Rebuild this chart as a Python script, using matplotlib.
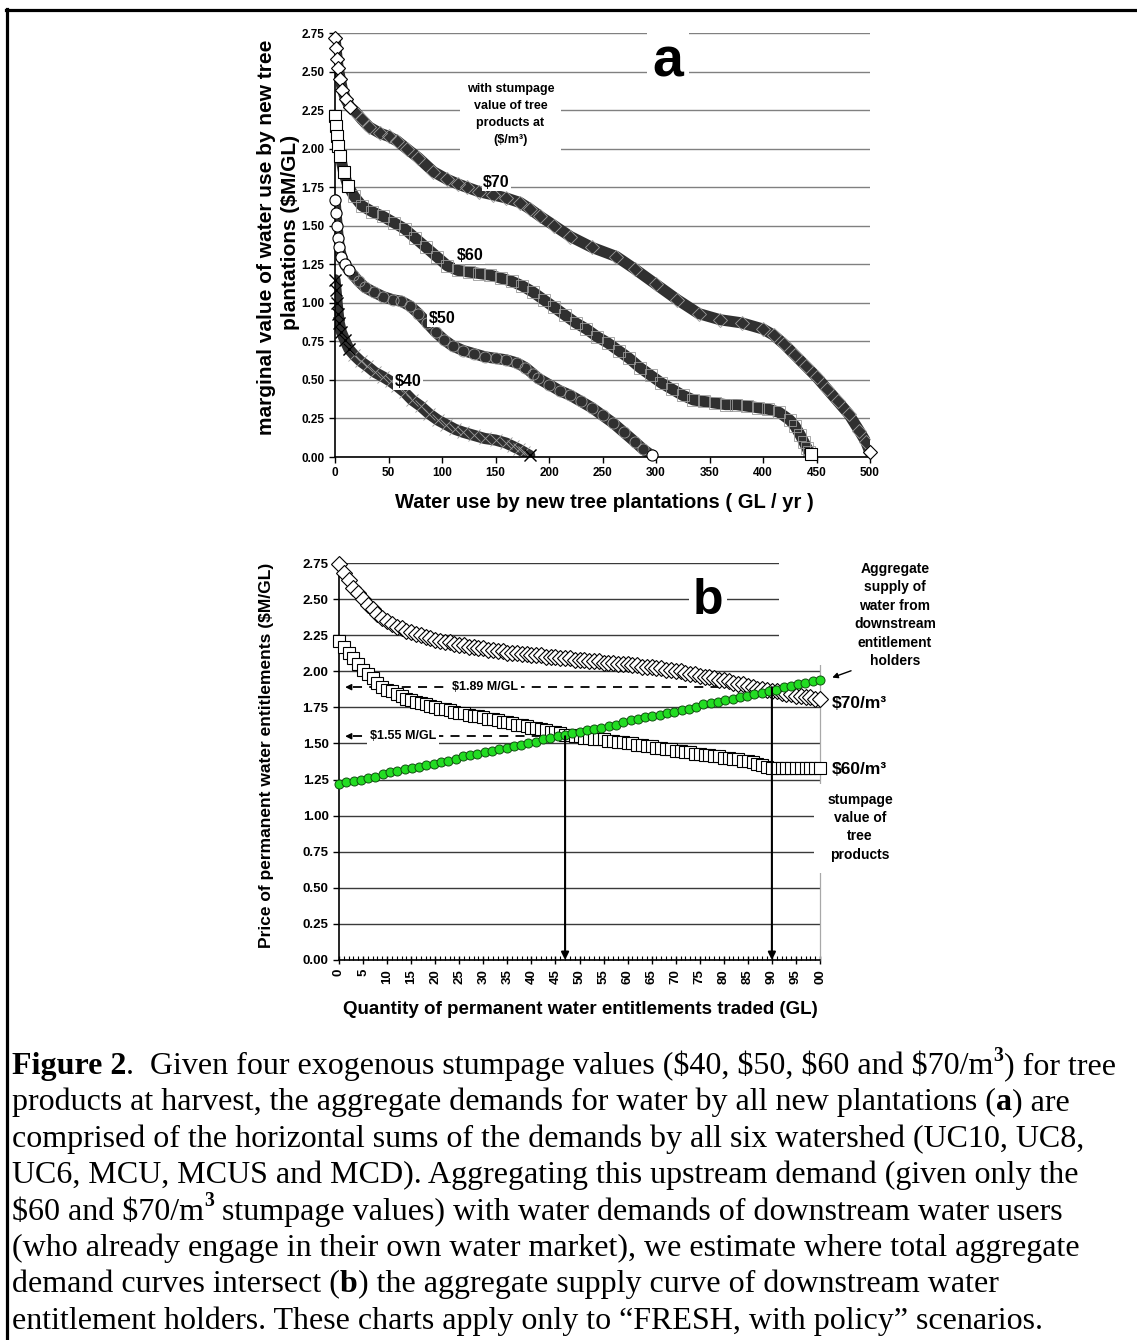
import numpy as np
import matplotlib
matplotlib.use('Agg')
import matplotlib.pyplot as plt
from matplotlib.lines import Line2D
from matplotlib.patches import Rectangle

plt.rcParams['font.family'] = ['Liberation Sans', 'DejaVu Sans']
plt.rcParams['font.weight'] = 'bold'

# ---- panel a: aggregate demand by new plantations, by stumpage value ----
a70_x = [0, 1, 2, 3, 5, 7, 10, 14, 19, 25, 32, 42, 50, 58, 67, 78, 92, 105, 115, 123, 135, 148, 160,
         173, 182, 192, 205, 220, 240, 263, 280, 300, 320, 340, 360, 380, 400, 410, 420, 430, 440, 450,
         460, 470, 480, 490, 496, 500]
a70_y = [2.72, 2.65, 2.58, 2.52, 2.45, 2.38, 2.32, 2.27, 2.24, 2.19, 2.14, 2.10, 2.08, 2.05, 2.00, 1.94,
         1.85, 1.80, 1.77, 1.75, 1.72, 1.70, 1.68, 1.65, 1.61, 1.56, 1.50, 1.43, 1.36, 1.30, 1.22, 1.12,
         1.02, 0.93, 0.89, 0.87, 0.83, 0.79, 0.73, 0.66, 0.59, 0.52, 0.44, 0.36, 0.28, 0.17, 0.10, 0.03]

a60_x = [0, 1, 2, 3, 5, 8, 12, 18, 25, 35, 45, 55, 65, 75, 85, 95, 105, 115, 125, 135, 145, 155, 165,
         175, 185, 195, 205, 215, 225, 235, 245, 255, 265, 275, 285, 295, 305, 315, 325, 335, 345, 355,
         365, 375, 385, 395, 405, 415, 425, 430, 435, 438, 441, 443, 445]
a60_y = [2.21, 2.15, 2.08, 2.02, 1.95, 1.85, 1.76, 1.69, 1.63, 1.59, 1.56, 1.52, 1.48, 1.42, 1.36, 1.30,
         1.24, 1.21, 1.20, 1.19, 1.18, 1.16, 1.14, 1.11, 1.07, 1.02, 0.97, 0.92, 0.87, 0.83, 0.78, 0.74,
         0.69, 0.64, 0.58, 0.53, 0.48, 0.44, 0.40, 0.37, 0.36, 0.35, 0.34, 0.34, 0.33, 0.32, 0.31, 0.29,
         0.24, 0.20, 0.14, 0.10, 0.06, 0.03, 0.02]

a50_x = [0, 1, 2, 3, 4, 6, 9, 13, 17, 22, 28, 36, 45, 54, 62, 70, 78, 86, 94, 102, 110, 120, 130, 140,
         150, 160, 170, 178, 185, 190, 200, 210, 220, 230, 240, 250, 260, 270, 280, 288, 296]
a50_y = [1.67, 1.58, 1.50, 1.42, 1.36, 1.30, 1.25, 1.21, 1.18, 1.14, 1.10, 1.07, 1.04, 1.02, 1.01, 0.98,
         0.93, 0.87, 0.81, 0.76, 0.72, 0.69, 0.67, 0.65, 0.64, 0.63, 0.61, 0.58, 0.54, 0.51, 0.47, 0.43,
         0.40, 0.36, 0.32, 0.27, 0.22, 0.16, 0.10, 0.05, 0.01]

a40_x = [0, 1, 2, 3, 4, 6, 9, 13, 18, 24, 30, 37, 45, 52, 58, 65, 72, 80, 88, 96, 104, 112, 120, 130,
         140, 150, 160, 166, 172, 177, 182]
a40_y = [1.15, 1.08, 1.00, 0.93, 0.87, 0.81, 0.76, 0.70, 0.66, 0.62, 0.59, 0.55, 0.52, 0.49, 0.46, 0.42,
         0.37, 0.33, 0.28, 0.24, 0.21, 0.18, 0.16, 0.14, 0.12, 0.11, 0.09, 0.07, 0.05, 0.03, 0.01]

# ---- panel b: total demand ($60, $70) vs downstream supply, 0..100 GL ----
b_qty = np.arange(0, 101)
b70 = [2.74, 2.68, 2.63, 2.58, 2.54, 2.50, 2.46, 2.43, 2.40, 2.37, 2.35, 2.33, 2.31, 2.30, 2.28, 2.27,
       2.26, 2.25, 2.24, 2.23, 2.22, 2.21, 2.20, 2.20, 2.19, 2.18, 2.18, 2.17, 2.17, 2.16, 2.16, 2.15,
       2.15, 2.14, 2.14, 2.13, 2.13, 2.13, 2.12, 2.12, 2.11, 2.11, 2.11, 2.10, 2.10, 2.10, 2.09, 2.09,
       2.09, 2.08, 2.08, 2.08, 2.07, 2.07, 2.07, 2.06, 2.06, 2.06, 2.05, 2.05, 2.05, 2.04, 2.04, 2.03,
       2.03, 2.03, 2.02, 2.02, 2.01, 2.01, 2.00, 2.00, 1.99, 1.98, 1.98, 1.97, 1.96, 1.96, 1.95, 1.94,
       1.94, 1.93, 1.92, 1.91, 1.91, 1.90, 1.89, 1.88, 1.88, 1.87, 1.86, 1.86, 1.85, 1.84, 1.84, 1.83,
       1.83, 1.82, 1.82, 1.81, 1.81]
b60 = [2.21, 2.17, 2.13, 2.09, 2.05, 2.01, 1.98, 1.95, 1.92, 1.89, 1.87, 1.86, 1.84, 1.83, 1.81, 1.80,
       1.79, 1.78, 1.77, 1.76, 1.75, 1.74, 1.74, 1.73, 1.72, 1.71, 1.71, 1.70, 1.69, 1.69, 1.68, 1.67,
       1.67, 1.66, 1.65, 1.65, 1.64, 1.63, 1.63, 1.62, 1.61, 1.61, 1.60, 1.59, 1.58, 1.58, 1.57, 1.56,
       1.56, 1.55, 1.55, 1.54, 1.54, 1.53, 1.53, 1.53, 1.52, 1.52, 1.51, 1.51, 1.50, 1.50, 1.49, 1.49,
       1.48, 1.48, 1.47, 1.47, 1.46, 1.46, 1.45, 1.45, 1.44, 1.44, 1.43, 1.43, 1.42, 1.42, 1.41, 1.41,
       1.40, 1.40, 1.39, 1.39, 1.38, 1.38, 1.37, 1.36, 1.35, 1.34, 1.33, 1.33, 1.33, 1.33, 1.33, 1.33,
       1.33, 1.33, 1.33, 1.33, 1.33]
supply_qty = np.linspace(0, 100, 67)
supply = [1.22, 1.23, 1.24, 1.25, 1.26, 1.27, 1.29, 1.30, 1.31, 1.32, 1.33, 1.34, 1.35, 1.36, 1.37, 1.38,
          1.39, 1.41, 1.42, 1.43, 1.44, 1.45, 1.46, 1.47, 1.48, 1.49, 1.50, 1.51, 1.53, 1.54, 1.55, 1.56,
          1.57, 1.58, 1.59, 1.60, 1.61, 1.62, 1.63, 1.65, 1.66, 1.67, 1.68, 1.69, 1.70, 1.71, 1.72, 1.73,
          1.74, 1.75, 1.77, 1.78, 1.79, 1.80, 1.81, 1.82, 1.83, 1.84, 1.85, 1.86, 1.87, 1.89, 1.90, 1.91,
          1.92, 1.93, 1.94]
eq_qty = [47, 90]
eq_price = [1.55, 1.89]

W, H = 1137, 1340
fig = plt.figure(figsize=(W / 100, H / 100), dpi=100)


def fx(px):
    return px / W


def fy(py):
    return 1 - py / H


# frame around the figure
fig.add_artist(Line2D([fx(6), 1], [fy(10), fy(10)], color='black', lw=2.3))
fig.add_artist(Line2D([fx(7), fx(7)], [fy(9), 0], color='black', lw=2.3))

white = dict(facecolor='white', edgecolor='none', pad=1)

# ================= panel a =================
ax = fig.add_axes([fx(335), fy(457), fx(870) - fx(335), fy(33) - fy(457)])
ax.set_xlim(0, 500)
ax.set_ylim(0, 2.75)
ax.set_axisbelow(True)
ax.grid(axis='y', color='#808080', lw=1.0)
for s in ['top', 'right']:
    ax.spines[s].set_visible(False)
ax.spines['left'].set_linewidth(1.2)
ax.spines['bottom'].set_linewidth(1.2)


def band(x, y, marker, ms, n_open):
    # dense run of markers -> dark band; the steep start and the last point stay open
    ax.plot(x, y, color='#303030', lw=8, solid_capstyle='round', zorder=2)
    ax.plot(x, y, ls='none', marker=marker, ms=ms, mfc='none', mec='#9a9a9a', mew=0.6, zorder=2.5)
    keep = list(range(n_open)) + [len(x) - 1]
    if marker == 'x':
        ax.plot(x, y, ls='none', marker='x', ms=ms, mec='black', mew=1.0, markevery=keep,
                zorder=3, clip_on=False)
    else:
        ax.plot(x, y, ls='none', marker=marker, ms=ms, mfc='white', mec='black', mew=0.8,
                markevery=keep, zorder=3, clip_on=False)


band(a70_x, a70_y, 'D', 7, 8)
band(a60_x, a60_y, 's', 8, 7)
band(a50_x, a50_y, 'o', 8, 8)
band(a40_x, a40_y, 'x', 8, 8)

ax.set_yticks(np.arange(0, 2.76, 0.25))
ax.set_yticklabels(['%.2f' % v for v in np.arange(0, 2.76, 0.25)])
ax.set_xticks(np.arange(0, 501, 50))
ax.tick_params(axis='both', labelsize=8.5, length=4, width=1)
for t in ax.get_xticklabels() + ax.get_yticklabels():
    t.set_fontweight('bold')

ax.text(151, 1.78, '$70', fontsize=11.5, ha='center', va='center', bbox=white, zorder=5)
ax.text(126, 1.31, '$60', fontsize=11.5, ha='center', va='center', bbox=white, zorder=5)
ax.text(100, 0.90, '$50', fontsize=11.5, ha='center', va='center', bbox=white, zorder=5)
ax.text(68, 0.49, '$40', fontsize=11.5, ha='center', va='center', bbox=white, zorder=5)
ax.text(164, 2.22, 'with stumpage\nvalue of tree\nproducts at\n($/m³)', fontsize=9,
        ha='center', va='center', linespacing=1.55, zorder=5,
        bbox=dict(facecolor='white', edgecolor='none', pad=5))
ax.text(311, 2.56, 'a', fontsize=40, ha='center', va='center', zorder=5,
        bbox=dict(facecolor='white', edgecolor='none', pad=4))

fig.text(fx(266), fy(237), 'marginal value of water use by new tree', rotation=90,
         ha='center', va='center', fontsize=15)
fig.text(fx(291), fy(232), 'plantations ($M/GL)', rotation=90,
         ha='center', va='center', fontsize=15)
fig.text(fx(604), fy(502), 'Water use by new tree plantations ( GL / yr )',
         ha='center', va='center', fontsize=14.5)

# ================= panel b =================
bx = fig.add_axes([fx(339), fy(960), fx(820) - fx(339), fy(563) - fy(960)])
bx.set_xlim(0, 100)
bx.set_ylim(0, 2.75)
bx.set_axisbelow(True)
bx.grid(axis='y', color='#3a3a3a', lw=1.0)
bx.spines['top'].set_visible(False)
bx.spines['right'].set_color('#a8a8a8')
bx.spines['right'].set_linewidth(0.9)
bx.spines['left'].set_linewidth(1.2)
bx.spines['bottom'].set_linewidth(1.2)

bx.plot(b_qty, b70, ls='none', marker='D', ms=8, mfc='white', mec='black', mew=0.8,
        zorder=3, clip_on=False)
bx.plot(b_qty, b60, ls='none', marker='s', ms=8.5, mfc='white', mec='black', mew=0.8,
        zorder=3, clip_on=False)
bx.plot(supply_qty, supply, ls='none', marker='o', ms=6.5, mfc='#22dd22', mec='#105010',
        mew=0.7, zorder=4, clip_on=False)

# equilibrium markers: dashed price lines and vertical quantity arrows
for q, p, lbl, lx in zip(eq_qty, eq_price, ['$1.55 M/GL', '$1.89 M/GL'], [13.3, 30.4]):
    bx.plot([3, q], [p, p], color='black', lw=1.3, ls=(0, (5, 4)), zorder=2)
    bx.annotate('', xy=(0.7, p), xytext=(3.2, p),
                arrowprops=dict(arrowstyle='-|>', color='black', lw=1.0, mutation_scale=9))
    bx.annotate('', xy=(q, 0.0), xytext=(q, p),
                arrowprops=dict(arrowstyle='-|>', color='black', lw=1.5, mutation_scale=11,
                                shrinkA=0, shrinkB=0), zorder=5)
    bx.text(lx, p, lbl, fontsize=9, ha='center', va='center', zorder=6,
            bbox=dict(facecolor='white', edgecolor='none', pad=2))

bx.set_yticks(np.arange(0, 2.76, 0.25))
bx.set_yticklabels(['%.2f' % v for v in np.arange(0, 2.76, 0.25)])
bx.set_xticks(np.arange(0, 101, 5))
bx.set_xticklabels([str(v) for v in range(0, 100, 5)] + ['00'], rotation=90)
bx.set_xticks(np.arange(0, 101, 1), minor=True)
bx.tick_params(axis='y', labelsize=9.5, length=4, width=1)
bx.tick_params(axis='x', which='major', labelsize=9.5, length=6, width=1, direction='inout')
bx.tick_params(axis='x', which='minor', length=3, width=0.8, direction='in')
for t in bx.get_xticklabels() + bx.get_yticklabels():
    t.set_fontweight('bold')

# white boxes hiding grid behind the side notes
bx.add_patch(Rectangle((91.5, 2.04), 30, 0.78, transform=bx.transData, facecolor='white',
                       edgecolor='none', zorder=2.6, clip_on=False))
bx.add_patch(Rectangle((98.7, 0.60), 25, 0.62, transform=bx.transData, facecolor='white',
                       edgecolor='none', zorder=2.6, clip_on=False))

bx.text(76.7, 2.49, 'b', fontsize=36, ha='center', va='center', zorder=6,
        bbox=dict(facecolor='white', edgecolor='none', pad=3))
bx.text(115.6, 2.39, 'Aggregate\nsupply of\nwater from\ndownstream\nentitlement\nholders',
        fontsize=10, ha='center', va='center', linespacing=1.4, zorder=6, clip_on=False)
bx.annotate('', xy=(102, 1.95), xytext=(107, 2.01), annotation_clip=False,
            arrowprops=dict(arrowstyle='-|>', color='black', lw=1.0, mutation_scale=8))
bx.text(102.5, 1.78, '$70/m³', fontsize=12.5, ha='left', va='center', zorder=6, clip_on=False)
bx.text(102.5, 1.32, '$60/m³', fontsize=12.5, ha='left', va='center', zorder=6, clip_on=False)
bx.text(108.3, 0.92, 'stumpage\nvalue of\ntree\nproducts', fontsize=10, ha='center',
        va='center', linespacing=1.4, zorder=6, clip_on=False)

fig.text(fx(266), fy(755), 'Price of permanent water entitlements ($M/GL)', rotation=90,
         ha='center', va='center', fontsize=12.5)
fig.text(fx(580), fy(1010), 'Quantity of permanent water entitlements traded (GL)',
         ha='center', va='center', fontsize=13.5)

# ================= caption =================
renderer = fig.canvas.get_renderer()
CAP = 23


def seg_width(s, size, weight):
    a = fig.text(0, 0, 'X' + s + 'X', fontsize=size, fontweight=weight, family='Liberation Serif',
                 parse_math=False)
    b = fig.text(0, 0, 'XX', fontsize=size, fontweight=weight, family='Liberation Serif',
                 parse_math=False)
    w = a.get_window_extent(renderer).width - b.get_window_extent(renderer).width
    a.remove()
    b.remove()
    return w


def rich_line(x_px, y_px, parts):
    x = x_px
    for s, bold, sup in parts:
        size = CAP * 0.62 if sup else CAP
        weight = 'bold' if bold else 'normal'
        yy = y_px - (CAP * 100 / 72 * 0.42 if sup else 0)
        fig.text(fx(x), fy(yy), s, fontsize=size, fontweight=weight, family='Liberation Serif',
                 ha='left', va='baseline', parse_math=False)
        x += seg_width(s, size, weight)


caption = [
    [('Figure 2', True, False), ('.  Given four exogenous stumpage values ($40, $50, $60 and $70/m', False, False),
     ('3', True, True), (') for tree', False, False)],
    [('products at harvest, the aggregate demands for water by all new plantations (', False, False),
     ('a', True, False), (') are', False, False)],
    [('comprised of the horizontal sums of the demands by all six watershed (UC10, UC8,', False, False)],
    [('UC6, MCU, MCUS and MCD). Aggregating this upstream demand (given only the', False, False)],
    [('$60 and $70/m', False, False), ('3', True, True),
     (' stumpage values) with water demands of downstream water users', False, False)],
    [('(who already engage in their own water market), we estimate where total aggregate', False, False)],
    [('demand curves intersect (', False, False), ('b', True, False),
     (') the aggregate supply curve of downstream water', False, False)],
    [('entitlement holders. These charts apply only to \u201cFRESH, with policy\u201d scenarios.', False, False)],
]
for i, parts in enumerate(caption):
    rich_line(12, 1074 + i * 36.4, parts)

fig.savefig('out.png', dpi=100)
